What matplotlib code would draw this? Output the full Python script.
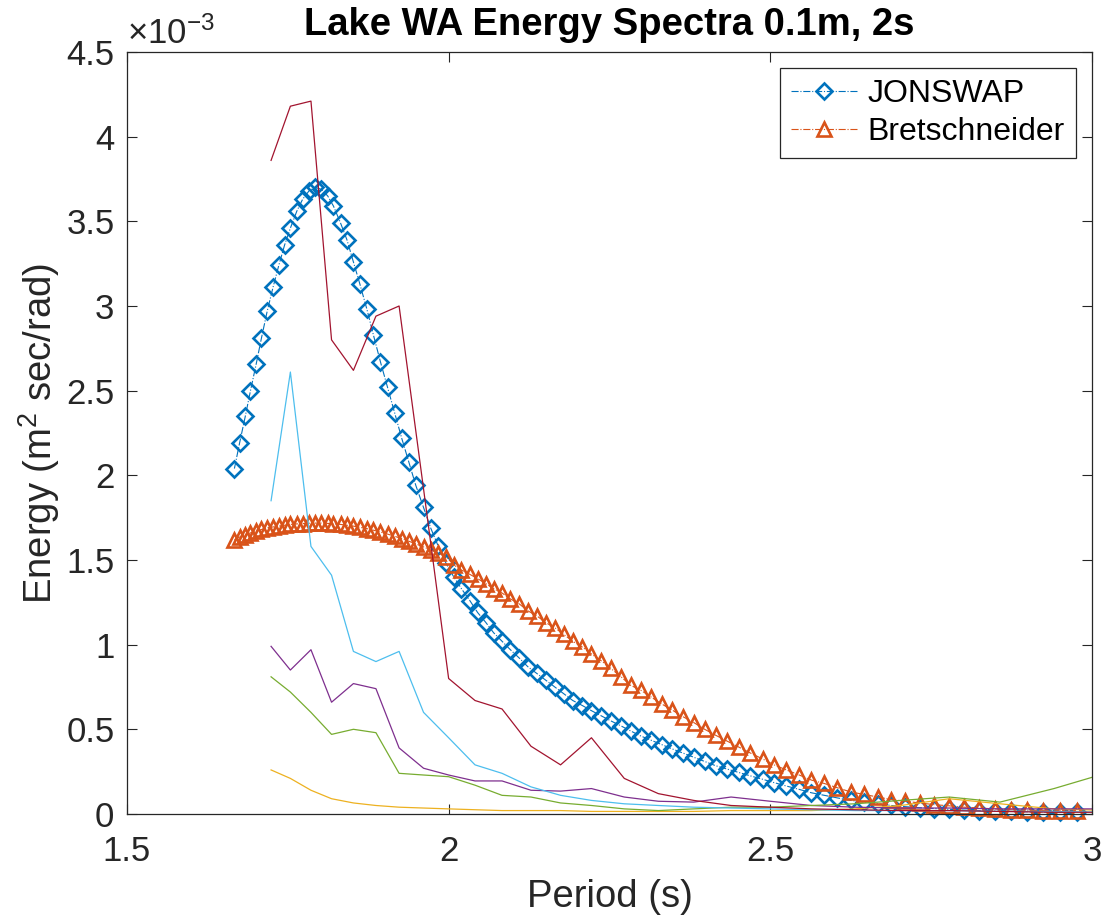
import numpy as np
import matplotlib
matplotlib.use("Agg")
import matplotlib.pyplot as plt
from matplotlib.ticker import FuncFormatter, MultipleLocator

plt.rcParams['font.family'] = ['Liberation Sans', 'DejaVu Sans']
plt.rcParams['mathtext.fontset'] = 'custom'
plt.rcParams['mathtext.rm'] = 'Liberation Sans'
plt.rcParams['mathtext.it'] = 'Liberation Sans:italic'

# Model spectra (energy in units of 1e-3 m^2 sec/rad) vs period (s)
period_model = [
    1.667, 1.675, 1.684, 1.692, 1.701, 1.709, 1.718, 1.727, 1.736, 1.745,
    1.754, 1.764, 1.773, 1.783, 1.792, 1.802, 1.812, 1.821, 1.832, 1.842,
    1.852, 1.862, 1.873, 1.883, 1.894, 1.905, 1.916, 1.927, 1.938, 1.949,
    1.961, 1.972, 1.984, 1.996, 2.008, 2.020, 2.033, 2.045, 2.058, 2.070,
    2.083, 2.096, 2.110, 2.123, 2.137, 2.151, 2.165, 2.179, 2.193, 2.208,
    2.222, 2.237, 2.252, 2.268, 2.283, 2.299, 2.315, 2.331, 2.347, 2.364,
    2.381, 2.398, 2.415, 2.433, 2.451, 2.469, 2.488, 2.506, 2.525, 2.545,
    2.564, 2.584, 2.604, 2.625, 2.646, 2.667, 2.688, 2.710, 2.732, 2.755,
    2.778, 2.801, 2.825, 2.849, 2.874, 2.899, 2.924, 2.950, 2.976,
]
jonswap = [
    2.04, 2.19, 2.35, 2.50, 2.66, 2.81, 2.97, 3.11, 3.24, 3.36,
    3.46, 3.56, 3.63, 3.68, 3.70, 3.69, 3.65, 3.59, 3.49, 3.39,
    3.26, 3.13, 2.98, 2.83, 2.67, 2.52, 2.37, 2.22, 2.08, 1.94,
    1.81, 1.69, 1.58, 1.48, 1.40, 1.33, 1.26, 1.19, 1.13, 1.07,
    1.02, 0.97, 0.92, 0.87, 0.83, 0.79, 0.75, 0.71, 0.67, 0.64,
    0.61, 0.58, 0.55, 0.52, 0.49, 0.46, 0.435, 0.41, 0.385, 0.36,
    0.335, 0.31, 0.285, 0.265, 0.245, 0.225, 0.205, 0.185, 0.165, 0.145,
    0.125, 0.11, 0.095, 0.08, 0.07, 0.06, 0.05, 0.043, 0.037, 0.032,
    0.027, 0.023, 0.02, 0.017, 0.015, 0.013, 0.011, 0.01, 0.009,
]
bretschneider = [
    1.62, 1.635, 1.65, 1.66, 1.67, 1.68, 1.69, 1.695, 1.70, 1.705,
    1.71, 1.713, 1.715, 1.717, 1.718, 1.718, 1.716, 1.714, 1.71, 1.705,
    1.70, 1.693, 1.685, 1.676, 1.665, 1.653, 1.64, 1.626, 1.611, 1.595,
    1.577, 1.559, 1.54, 1.52, 1.47, 1.44, 1.415, 1.39, 1.36, 1.33,
    1.305, 1.27, 1.24, 1.20, 1.17, 1.13, 1.10, 1.06, 1.02, 0.985,
    0.945, 0.905, 0.86, 0.81, 0.76, 0.73, 0.69, 0.65, 0.615, 0.575,
    0.54, 0.50, 0.465, 0.43, 0.395, 0.36, 0.325, 0.29, 0.26, 0.23,
    0.20, 0.18, 0.155, 0.13, 0.115, 0.10, 0.085, 0.075, 0.065, 0.055,
    0.048, 0.04, 0.035, 0.03, 0.025, 0.022, 0.02, 0.018, 0.016,
]

# Measured spectra
period_meas = [
    1.724, 1.754, 1.786, 1.818, 1.852, 1.887, 1.923, 1.961, 2.000, 2.041,
    2.083, 2.128, 2.174, 2.222, 2.273, 2.326, 2.381, 2.439, 2.500, 2.564,
    2.632, 2.703, 2.778, 2.857, 2.941, 3.030,
]
meas_yellow = [
    0.26, 0.21, 0.14, 0.09, 0.065, 0.05, 0.04, 0.035, 0.03, 0.025,
    0.02, 0.02, 0.02, 0.015, 0.015, 0.015, 0.015, 0.02, 0.02, 0.02,
    0.03, 0.05, 0.09, 0.06, 0.03, 0.02,
]
meas_purple = [
    0.99, 0.85, 0.97, 0.66, 0.77, 0.74, 0.39, 0.27, 0.23, 0.195,
    0.195, 0.14, 0.135, 0.15, 0.10, 0.075, 0.07, 0.10, 0.075, 0.05,
    0.04, 0.035, 0.035, 0.03, 0.03, 0.03,
]
meas_green = [
    0.81, 0.72, 0.60, 0.47, 0.50, 0.48, 0.24, 0.23, 0.22, 0.17,
    0.11, 0.10, 0.065, 0.05, 0.03, 0.02, 0.03, 0.04, 0.04, 0.05,
    0.06, 0.08, 0.10, 0.07, 0.15, 0.25,
]
meas_lightblue = [
    1.85, 2.61, 1.58, 1.41, 0.96, 0.90, 0.96, 0.60, 0.45, 0.29,
    0.24, 0.16, 0.11, 0.08, 0.06, 0.05, 0.04, 0.035, 0.03, 0.025,
    0.02, 0.02, 0.02, 0.015, 0.015, 0.01,
]
meas_darkred = [
    3.86, 4.18, 4.21, 2.80, 2.62, 2.94, 3.00, 1.92, 0.80, 0.67,
    0.62, 0.40, 0.29, 0.45, 0.21, 0.12, 0.08, 0.05, 0.04, 0.03,
    0.025, 0.02, 0.02, 0.015, 0.01, 0.01,
]

fig = plt.figure(figsize=(11.07, 9.19), dpi=100)
ax = fig.add_axes([0.1147, 0.1143, 0.8717, 0.8291])

ax.plot(period_model, jonswap, linestyle='-.', lw=0.8, color='#0072BD',
        marker='D', ms=7.8, mfc='none', mec='#0072BD', mew=1.9,
        label='JONSWAP', clip_on=False)
ax.plot(period_model, bretschneider, linestyle='-.', lw=0.8, color='#D95319',
        marker='^', ms=10.5, mfc='none', mec='#D95319', mew=1.9,
        label='Bretschneider', clip_on=False)

for vals, c in [(meas_yellow, '#EDB120'), (meas_purple, '#7E2F8E'),
                (meas_green, '#77AC30'), (meas_lightblue, '#4DBEEE'),
                (meas_darkred, '#A2142F')]:
    ax.plot(period_meas, vals, color=c, lw=0.9)

ax.set_xlim(1.5, 3)
ax.set_ylim(0, 4.5)
ax.xaxis.set_major_locator(MultipleLocator(0.5))
ax.yaxis.set_major_locator(MultipleLocator(0.5))
ax.yaxis.set_major_formatter(FuncFormatter(lambda v, p: f"{v:g}"))
ax.xaxis.set_major_formatter(FuncFormatter(lambda v, p: f"{v:g}"))

ax.tick_params(direction='in', length=7, width=0.8, top=True, right=True,
               labelsize=25, colors='#262626')
ax.tick_params(axis='y', pad=9)
ax.tick_params(axis='x', pad=15)
for s in ax.spines.values():
    s.set_color('#262626')
    s.set_linewidth(0.9)

ax.text(0.0, 1.002, r'$\times10^{-3}$', transform=ax.transAxes,
        fontsize=25, color='#262626', ha='left', va='bottom')

ax.set_title('Lake WA Energy Spectra 0.1m, 2s', fontsize=27.5,
             fontweight='bold', pad=12)
ax.set_xlabel('Period (s)', fontsize=27.5, color='#262626', labelpad=8)
ax.set_ylabel(r'Energy (m$^2$ sec/rad)', fontsize=27.5, color='#262626',
              labelpad=3)

leg = ax.legend(loc='upper right', fontsize=23, handlelength=2.1,
                fancybox=False, framealpha=1, edgecolor='#262626',
                borderpad=0.35, labelspacing=0.25, handletextpad=0.3,
                borderaxespad=0.5)
leg.get_frame().set_linewidth(0.9)

fig.savefig('out.png', dpi=100)
